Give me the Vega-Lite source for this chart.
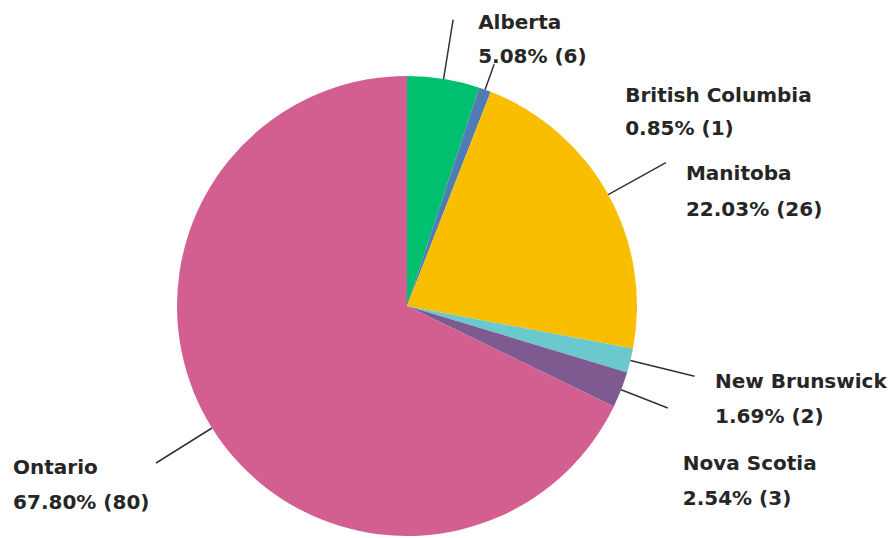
{
  "$schema": "https://vega.github.io/schema/vega-lite/v6.json",
  "width": 814,
  "height": 464,
  "autosize": {"type": "none"},
  "padding": {"left": 0, "top": 74, "right": 80, "bottom": 0},
  "background": "white",
  "config": {
    "view": {"stroke": null},
    "text": {"font": "DejaVu Sans", "fontWeight": "bold", "fontSize": 20, "fill": "#262626"}
  },
  "data": {
    "values": [
      {"province": "Alberta", "count": 6, "detail": "5.08% (6)"},
      {"province": "British Columbia", "count": 1, "detail": "0.85% (1)"},
      {"province": "Manitoba", "count": 26, "detail": "22.03% (26)"},
      {"province": "New Brunswick", "count": 2, "detail": "1.69% (2)"},
      {"province": "Nova Scotia", "count": 3, "detail": "2.54% (3)"},
      {"province": "Ontario", "count": 80, "detail": "67.80% (80)"}
    ]
  },
  "transform": [
    {"stack": "count", "groupby": [], "sort": [{"field": "province", "order": "ascending"}], "as": ["cum_start", "cum_end"]}
  ],
  "layer": [
    {
      "mark": {"type": "arc", "radius": 230},
      "encoding": {
        "theta": {"field": "cum_start", "type": "quantitative", "scale": {"domain": [0, 118]}},
        "theta2": {"field": "cum_end"},
        "color": {
          "field": "province",
          "type": "nominal",
          "scale": {
            "domain": ["Alberta", "British Columbia", "Manitoba", "New Brunswick", "Nova Scotia", "Ontario"],
            "range": ["#00BF6F", "#507CB6", "#F9BE00", "#6BC8CD", "#7D5A8F", "#D25F90"]
          },
          "legend": null
        }
      }
    },
    {
      "transform": [
        {"fold": ["cum_start", "cum_end"], "as": ["edge", "pos"]},
        {"aggregate": [{"op": "mean", "field": "pos", "as": "mid"}], "groupby": ["province", "detail"]}
      ],
      "layer": [
        {
          "transform": [{"filter": "datum.province === 'Alberta'"}],
          "layer": [
            {"mark": {"type": "arc", "radius": 290, "radius2": 230, "fillOpacity": 0, "stroke": "#333333", "strokeWidth": 1.5}, "encoding": {"theta": {"field": "mid", "type": "quantitative"}, "theta2": {"field": "mid"}}},
            {"mark": {"type": "text", "radius": 290, "align": "left", "baseline": "alphabetic", "dx": 25, "dy": 9}, "encoding": {"theta": {"field": "mid", "type": "quantitative"}, "text": {"field": "province"}}},
            {"mark": {"type": "text", "radius": 290, "align": "left", "baseline": "alphabetic", "dx": 25, "dy": 43.5}, "encoding": {"theta": {"field": "mid", "type": "quantitative"}, "text": {"field": "detail"}}}
          ]
        },
        {
          "transform": [{"filter": "datum.province === 'British Columbia'"}],
          "layer": [
            {"mark": {"type": "arc", "radius": 257, "radius2": 230, "fillOpacity": 0, "stroke": "#333333", "strokeWidth": 1.5}, "encoding": {"theta": {"field": "mid", "type": "quantitative"}, "theta2": {"field": "mid"}}},
            {"mark": {"type": "text", "radius": 257, "align": "left", "baseline": "alphabetic", "dx": 131, "dy": 38}, "encoding": {"theta": {"field": "mid", "type": "quantitative"}, "text": {"field": "province"}}},
            {"mark": {"type": "text", "radius": 257, "align": "left", "baseline": "alphabetic", "dx": 131, "dy": 71}, "encoding": {"theta": {"field": "mid", "type": "quantitative"}, "text": {"field": "detail"}}}
          ]
        },
        {
          "transform": [{"filter": "datum.province === 'Manitoba'"}],
          "layer": [
            {"mark": {"type": "arc", "radius": 296, "radius2": 230, "fillOpacity": 0, "stroke": "#333333", "strokeWidth": 1.5}, "encoding": {"theta": {"field": "mid", "type": "quantitative"}, "theta2": {"field": "mid"}}},
            {"mark": {"type": "text", "radius": 296, "align": "left", "baseline": "alphabetic", "dx": 20, "dy": 17.5}, "encoding": {"theta": {"field": "mid", "type": "quantitative"}, "text": {"field": "province"}}},
            {"mark": {"type": "text", "radius": 296, "align": "left", "baseline": "alphabetic", "dx": 20, "dy": 53}, "encoding": {"theta": {"field": "mid", "type": "quantitative"}, "text": {"field": "detail"}}}
          ]
        },
        {
          "transform": [{"filter": "datum.province === 'New Brunswick'"}],
          "layer": [
            {"mark": {"type": "arc", "radius": 296, "radius2": 230, "fillOpacity": 0, "stroke": "#333333", "strokeWidth": 1.5}, "encoding": {"theta": {"field": "mid", "type": "quantitative"}, "theta2": {"field": "mid"}}},
            {"mark": {"type": "text", "radius": 296, "align": "left", "baseline": "alphabetic", "dx": 20.5, "dy": 12}, "encoding": {"theta": {"field": "mid", "type": "quantitative"}, "text": {"field": "province"}}},
            {"mark": {"type": "text", "radius": 296, "align": "left", "baseline": "alphabetic", "dx": 20.5, "dy": 47}, "encoding": {"theta": {"field": "mid", "type": "quantitative"}, "text": {"field": "detail"}}}
          ]
        },
        {
          "transform": [{"filter": "datum.province === 'Nova Scotia'"}],
          "layer": [
            {"mark": {"type": "arc", "radius": 280, "radius2": 230, "fillOpacity": 0, "stroke": "#333333", "strokeWidth": 1.5}, "encoding": {"theta": {"field": "mid", "type": "quantitative"}, "theta2": {"field": "mid"}}},
            {"mark": {"type": "text", "radius": 280, "align": "left", "baseline": "alphabetic", "dx": 15, "dy": 62}, "encoding": {"theta": {"field": "mid", "type": "quantitative"}, "text": {"field": "province"}}},
            {"mark": {"type": "text", "radius": 280, "align": "left", "baseline": "alphabetic", "dx": 15, "dy": 97.5}, "encoding": {"theta": {"field": "mid", "type": "quantitative"}, "text": {"field": "detail"}}}
          ]
        },
        {
          "transform": [{"filter": "datum.province === 'Ontario'"}],
          "layer": [
            {"mark": {"type": "arc", "radius": 296, "radius2": 230, "fillOpacity": 0, "stroke": "#333333", "strokeWidth": 1.5}, "encoding": {"theta": {"field": "mid", "type": "quantitative"}, "theta2": {"field": "mid"}}},
            {"mark": {"type": "text", "radius": 296, "align": "left", "baseline": "alphabetic", "dx": -143, "dy": 11}, "encoding": {"theta": {"field": "mid", "type": "quantitative"}, "text": {"field": "province"}}},
            {"mark": {"type": "text", "radius": 296, "align": "left", "baseline": "alphabetic", "dx": -143, "dy": 46}, "encoding": {"theta": {"field": "mid", "type": "quantitative"}, "text": {"field": "detail"}}}
          ]
        }
      ]
    }
  ]
}
